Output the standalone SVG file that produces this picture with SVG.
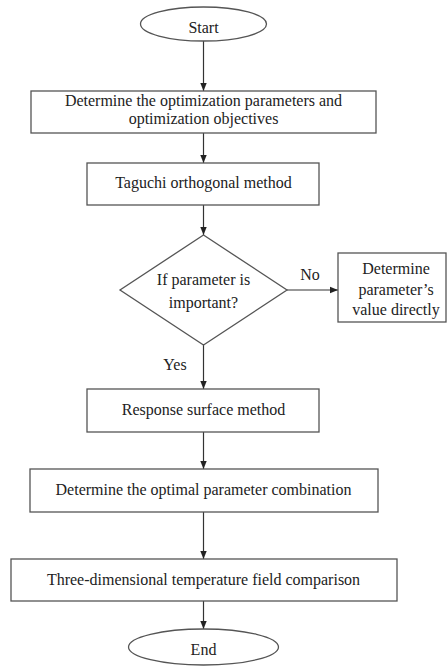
<svg xmlns="http://www.w3.org/2000/svg" width="447" height="666" viewBox="0 0 447 666">
<style>
.s{fill:#fff;stroke:#555;stroke-width:1.3}
.t{font-family:"Liberation Serif","Times New Roman",serif;font-size:16px;fill:#222;text-anchor:middle}
.c{stroke:#333;stroke-width:1.2;fill:none;marker-end:url(#ah)}
</style>
<defs>
<marker id="ah" viewBox="0 0 10 10" refX="10" refY="5" markerWidth="8" markerHeight="8" markerUnits="userSpaceOnUse" orient="auto">
<path d="M0,1 L10,5 L0,9 z" fill="#222"/>
</marker>
</defs>
<rect width="447" height="666" fill="#fff"/>
<g id="connectors">
<line class="c" x1="203.5" y1="41" x2="203.5" y2="91"/>
<line class="c" x1="203.5" y1="133" x2="203.5" y2="163"/>
<line class="c" x1="203.5" y1="205" x2="203.5" y2="235"/>
<line class="c" x1="203.5" y1="345" x2="203.5" y2="389"/>
<line class="c" x1="203.5" y1="432" x2="203.5" y2="469"/>
<line class="c" x1="203.5" y1="512" x2="203.5" y2="559"/>
<line class="c" x1="203.5" y1="601" x2="203.5" y2="629"/>
<line class="c" x1="287" y1="290" x2="338" y2="290"/>
<text class="t" x="310" y="280">No</text>
<text class="t" x="175" y="370">Yes</text>
</g>
<g id="start">
<ellipse class="s" cx="203.5" cy="24" rx="63" ry="17"/>
<text class="t" x="203.5" y="33">Start</text>
</g>
<g id="determine-params">
<rect class="s" x="31" y="91" width="345" height="42"/>
<text class="t" x="203.5" y="106">Determine the optimization parameters and</text>
<text class="t" x="203.5" y="124">optimization objectives</text>
</g>
<g id="taguchi">
<rect class="s" x="87" y="163" width="232" height="42"/>
<text class="t" x="203.5" y="188">Taguchi orthogonal method</text>
</g>
<g id="decision">
<polygon class="s" points="203.5,235 287,290 203.5,345 120,290"/>
<text class="t" x="203.5" y="285">If parameter is</text>
<text class="t" x="203.5" y="308">important?</text>
</g>
<g id="direct">
<rect class="s" x="338" y="253" width="108" height="69"/>
<text class="t" x="396" y="274">Determine</text>
<text class="t" x="396" y="295">parameter’s</text>
<text class="t" x="396" y="315">value directly</text>
</g>
<g id="response">
<rect class="s" x="87" y="389" width="232" height="43"/>
<text class="t" x="203.5" y="415">Response surface method</text>
</g>
<g id="optimal">
<rect class="s" x="30" y="469" width="348" height="43"/>
<text class="t" x="203.5" y="495">Determine the optimal parameter combination</text>
</g>
<g id="comparison">
<rect class="s" x="11" y="559" width="386" height="42"/>
<text class="t" x="203.5" y="585">Three-dimensional temperature field comparison</text>
</g>
<g id="end">
<ellipse class="s" cx="203.5" cy="647" rx="75" ry="18"/>
<text class="t" x="203.5" y="655">End</text>
</g>
</svg>
